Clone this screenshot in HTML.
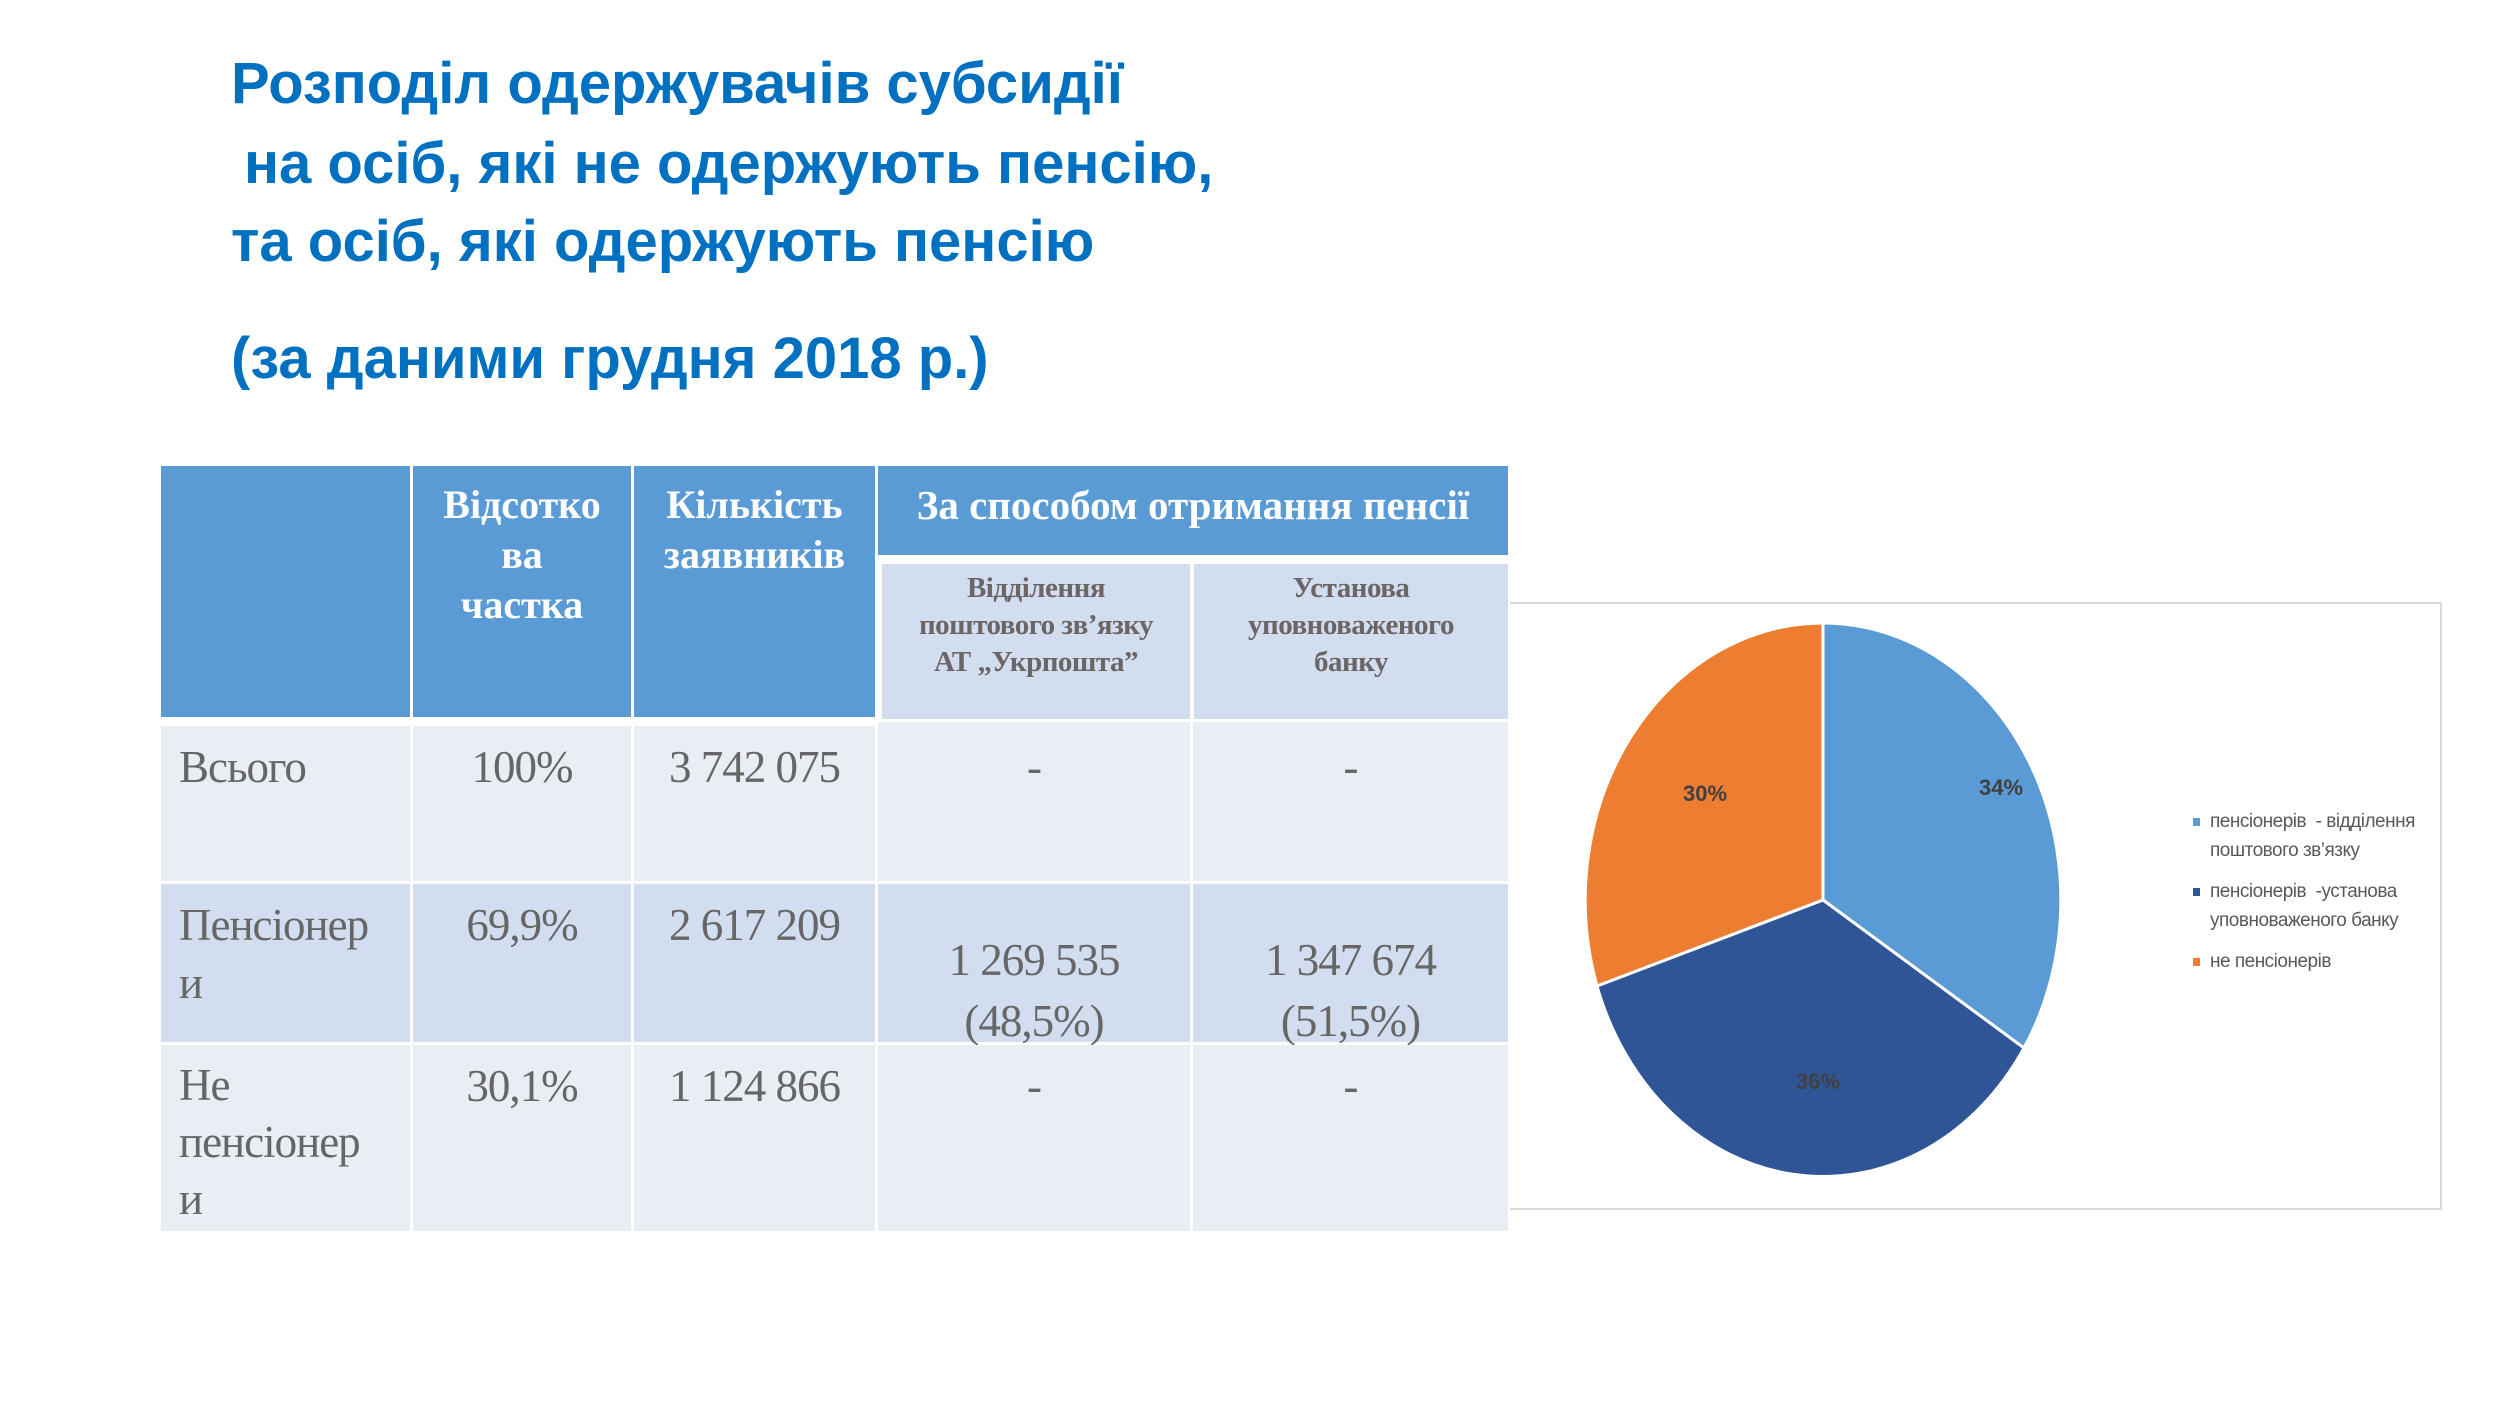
<!DOCTYPE html>
<html><head><meta charset="utf-8"><style>
body{margin:0;width:2520px;height:1417px;background:#fff;position:relative;overflow:hidden}
.t{position:absolute;left:231px;font-family:"Liberation Sans",sans-serif;font-weight:bold;color:#0070C0;font-size:58px;white-space:nowrap;letter-spacing:0;line-height:1}
.c{position:absolute;box-sizing:border-box}
.h{background:#5B9BD5;color:#fff;font-family:"Liberation Serif",serif;font-weight:bold;font-size:40px;line-height:50px;text-align:center}
.s{background:#D2DEEF;color:#6b6565;font-family:"Liberation Serif",serif;font-weight:bold;font-size:29px;line-height:37px;text-align:center;letter-spacing:-0.5px}
.r{color:#666;font-family:"Liberation Serif",serif;font-size:45px;line-height:58px;letter-spacing:-1px}
.l{background:#E9EDF4}.d{background:#D2DEEF}
.lg{position:absolute;font-family:"Liberation Sans",sans-serif;font-size:19px;color:#595959;white-space:nowrap;letter-spacing:-0.5px}
</style></head><body>
<div class="t" style="top:55px">Розподіл одержувачів субсидії</div>
<div class="t" style="top:135px;left:244px">на осіб, які не одержують пенсію,</div>
<div class="t" style="top:213px">та осіб, які одержують пенсію</div>
<div class="t" style="top:330px">(за даними грудня 2018 р.)</div>

<div class="c h" style="left:161px;top:466px;width:249px;height:251px"></div>
<div class="c h" style="left:413px;top:466px;width:218px;height:251px;padding-top:14px">Відсотко<br>ва<br>частка</div>
<div class="c h" style="left:634px;top:466px;width:241px;height:251px;padding-top:14px">Кількість<br>заявників</div>
<div class="c h" style="left:878px;top:466px;width:630px;height:89px;padding-top:14px;font-size:41px">За способом отримання пенсії</div>
<div class="c s" style="left:882px;top:564px;width:308px;height:155px;padding-top:6px">Відділення<br>поштового зв’язку<br>АТ „Укрпошта”</div>
<div class="c s" style="left:1194px;top:564px;width:314px;height:155px;padding-top:6px">Установа<br>уповноваженого<br>банку</div>

<div class="c r l" style="left:161px;top:726px;width:249px;height:155px;padding:12px 0 0 18px">Всього</div>
<div class="c r l" style="left:413px;top:726px;width:218px;height:155px;padding-top:12px;text-align:center">100%</div>
<div class="c r l" style="left:634px;top:726px;width:241px;height:155px;padding-top:12px;text-align:center">3 742 075</div>
<div class="c r l" style="left:878px;top:722px;width:312px;height:159px;padding-top:16px;text-align:center">-</div>
<div class="c r l" style="left:1193px;top:722px;width:315px;height:159px;padding-top:16px;text-align:center">-</div>

<div class="c r d" style="left:161px;top:884px;width:249px;height:158px;padding:12px 0 0 18px">Пенсіонер<br>и</div>
<div class="c r d" style="left:413px;top:884px;width:218px;height:158px;padding-top:12px;text-align:center">69,9%</div>
<div class="c r d" style="left:634px;top:884px;width:241px;height:158px;padding-top:12px;text-align:center">2 617 209</div>
<div class="c r d" style="left:878px;top:884px;width:312px;height:158px;padding-top:46px;line-height:61px;text-align:center">1 269 535<br>(48,5%)</div>
<div class="c r d" style="left:1193px;top:884px;width:315px;height:158px;padding-top:46px;line-height:61px;text-align:center">1 347 674<br>(51,5%)</div>

<div class="c r l" style="left:161px;top:1045px;width:249px;height:186px;padding:12px 0 0 18px;line-height:57px">Не<br>пенсіонер<br>и</div>
<div class="c r l" style="left:413px;top:1045px;width:218px;height:186px;padding-top:12px;text-align:center">30,1%</div>
<div class="c r l" style="left:634px;top:1045px;width:241px;height:186px;padding-top:12px;text-align:center">1 124 866</div>
<div class="c r l" style="left:878px;top:1045px;width:312px;height:186px;padding-top:12px;text-align:center">-</div>
<div class="c r l" style="left:1193px;top:1045px;width:315px;height:186px;padding-top:12px;text-align:center">-</div>

<div style="position:absolute;left:1510px;top:602px;width:930px;height:604px;border:2px solid #d9d9d9;border-left:none"></div>
<svg style="position:absolute;left:0;top:0" width="2520" height="1417">
<g stroke="#fff" stroke-width="3" stroke-linejoin="round">
<path d="M1823 900 L1823 623 A238 277 0 0 1 2024 1048 Z" fill="#5B9BD5"/>
<path d="M1823 900 L2024 1048 A238 277 0 0 1 1597 986 Z" fill="#2F5597"/>
<path d="M1823 900 L1597 986 A238 277 0 0 1 1823 623 Z" fill="#ED7D31"/>
</g>
<g font-family="Liberation Sans,sans-serif" font-size="22" font-weight="bold" fill="#404040" text-anchor="middle">
<text x="2001" y="795">34%</text>
<text x="1705" y="801">30%</text>
<text x="1818" y="1089">36%</text>
</g>
<rect x="2193" y="818" width="7" height="8" fill="#5B9BD5"/>
<rect x="2193" y="888" width="7" height="8" fill="#2F5597"/>
<rect x="2193" y="958" width="7" height="8" fill="#ED7D31"/>
</svg>
<div class="lg" style="left:2210px;top:811px">пенсіонерів &nbsp;- відділення</div>
<div class="lg" style="left:2210px;top:840px">поштового зв’язку</div>
<div class="lg" style="left:2210px;top:881px">пенсіонерів &nbsp;-установа</div>
<div class="lg" style="left:2210px;top:910px">уповноваженого банку</div>
<div class="lg" style="left:2210px;top:951px">не пенсіонерів</div>
</body></html>
